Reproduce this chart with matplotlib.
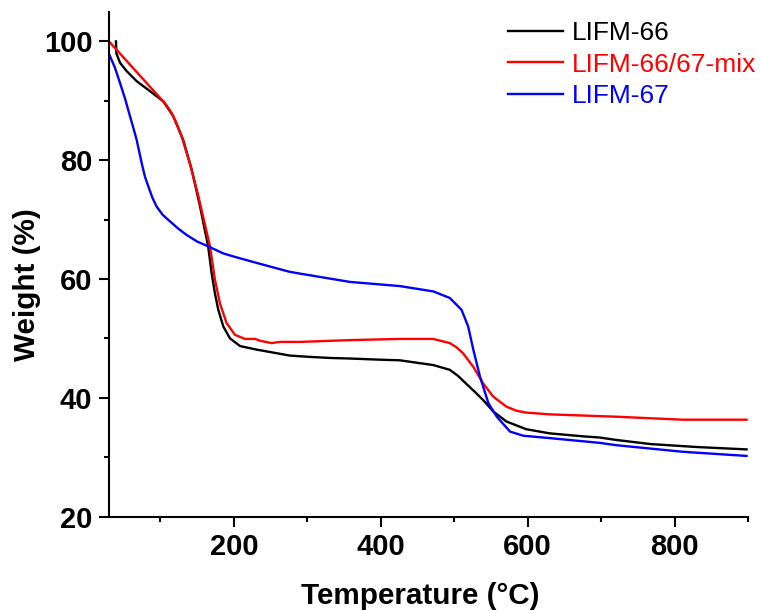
import matplotlib
matplotlib.use("Agg")
import matplotlib.pyplot as plt
from matplotlib.ticker import MultipleLocator

# ---- data ----
t_66 = [39.5, 40, 45, 54, 67.7, 86, 104, 117.5, 131, 142.6, 154, 160, 165, 169.7, 174.2, 178.8,
        185.6, 194.7, 208.4, 231, 253.6, 276, 300, 330, 358, 400, 426, 471.5, 494, 505, 516, 528,
        539.5, 553, 571, 598, 630, 675, 698, 720, 767, 830, 898]
w_66 = [100.0, 98.0, 96.4, 95.0, 93.3, 91.6, 89.9, 87.4, 83.4, 78.4, 72.2, 68.5, 65.5, 61.0,
        57.6, 54.8, 52.0, 50.0, 48.7, 48.1, 47.6, 47.1, 46.9, 46.7, 46.6, 46.4, 46.3, 45.5, 44.7,
        43.7, 42.4, 41.0, 39.6, 37.7, 36.0, 34.7, 34.0, 33.5, 33.3, 32.9, 32.2, 31.7, 31.3]

t_mix = [30, 101.6, 108, 115, 122, 129, 140, 151.6, 160, 167.5, 174.2, 181, 190, 201.4, 215, 229,
         235.5, 251.4, 262.8, 290, 358, 426, 471.5, 494, 503, 512, 526, 539.5, 553, 571, 585, 598,
         630, 698, 721, 811, 898]
w_mix = [100.0, 90.2, 89.3, 88.0, 86.2, 84.0, 79.5, 74.0, 69.5, 65.5, 59.9, 55.9, 52.6, 50.6,
         49.9, 49.9, 49.6, 49.2, 49.4, 49.4, 49.7, 49.9, 49.9, 49.2, 48.5, 47.5, 45.2, 42.4, 40.2,
         38.5, 37.8, 37.5, 37.2, 36.9, 36.8, 36.3, 36.3]

t_67 = [30, 38, 45, 52, 58.6, 63, 67.7, 74.5, 79, 83.5, 89, 94.8, 103, 113, 125, 135.8, 150, 163,
        185.6, 199, 231, 276, 290, 358, 426, 471.5, 494, 510, 519, 526, 535, 546.5, 558, 576, 594,
        630, 698, 721, 811, 898]
w_67 = [97.9, 95.6, 93.0, 90.3, 87.4, 85.5, 83.4, 79.5, 77.2, 75.6, 73.7, 72.2, 70.8, 69.7, 68.4,
        67.4, 66.3, 65.6, 64.3, 63.8, 62.7, 61.2, 60.9, 59.5, 58.8, 57.9, 56.8, 54.8, 52.0, 48.1,
        43.6, 39.1, 36.8, 34.3, 33.6, 33.2, 32.4, 32.0, 30.9, 30.2]

labels = ["LIFM-66", "LIFM-66/67-mix", "LIFM-67"]
colors = ["#000000", "#FF0000", "#0000FF"]

x_ticks = [200, 400, 600, 800]
y_ticks = [20, 40, 60, 80, 100]

# ---- figure ----
W, H = 761, 611
fig = plt.figure(figsize=(W / 100, H / 100), dpi=100)
left, right, top, bottom = 109, 748, 11.7, 516.5
ax = fig.add_axes([left / W, 1 - bottom / H, (right - left) / W, (bottom - top) / H])

for t, w, lab, c in zip([t_66, t_mix, t_67], [w_66, w_mix, w_67], labels, colors):
    ax.plot(t, w, color=c, lw=1.7, label=lab, solid_joinstyle="round")

ax.set_xlim(30, 900)
ax.set_ylim(20, 105)
ax.set_xticks(x_ticks)
ax.set_yticks(y_ticks)
ax.xaxis.set_minor_locator(MultipleLocator(100))
ax.yaxis.set_minor_locator(MultipleLocator(10))

for s in ["top", "right"]:
    ax.spines[s].set_visible(False)
for s in ["left", "bottom"]:
    ax.spines[s].set_linewidth(1.5)

ax.tick_params(which="major", direction="out", length=7, width=1.5, pad=5)
ax.tick_params(which="minor", direction="out", length=3.5, width=1.5)

font = "Liberation Sans"
for lbl in ax.get_xticklabels() + ax.get_yticklabels():
    lbl.set_fontfamily(font)
    lbl.set_fontweight("bold")
    lbl.set_fontsize(21)

ax.set_xlabel("Temperature (°C)", fontfamily=font, fontweight="bold", fontsize=21.3)
ax.set_ylabel("Weight (%)", fontfamily=font, fontweight="bold", fontsize=21.3)
ax.xaxis.set_label_coords((420 - left) / (right - left), (bottom - 596) / (bottom - top))
ax.xaxis.label.set_va("center")
ax.yaxis.set_label_coords((27.5 - left) / (right - left), (bottom - 285) / (bottom - top))
ax.yaxis.label.set_va("center")

leg = ax.legend(loc="upper left", bbox_to_anchor=(508 / W, 1 - 21.5 / H),
                bbox_transform=fig.transFigure, frameon=False,
                prop={"family": font, "size": 19}, handlelength=2.08,
                handletextpad=0.34, labelspacing=0.27, borderpad=0, borderaxespad=0)
for txt, c in zip(leg.get_texts(), colors):
    txt.set_color(c)

fig.savefig("out.png", dpi=100)
